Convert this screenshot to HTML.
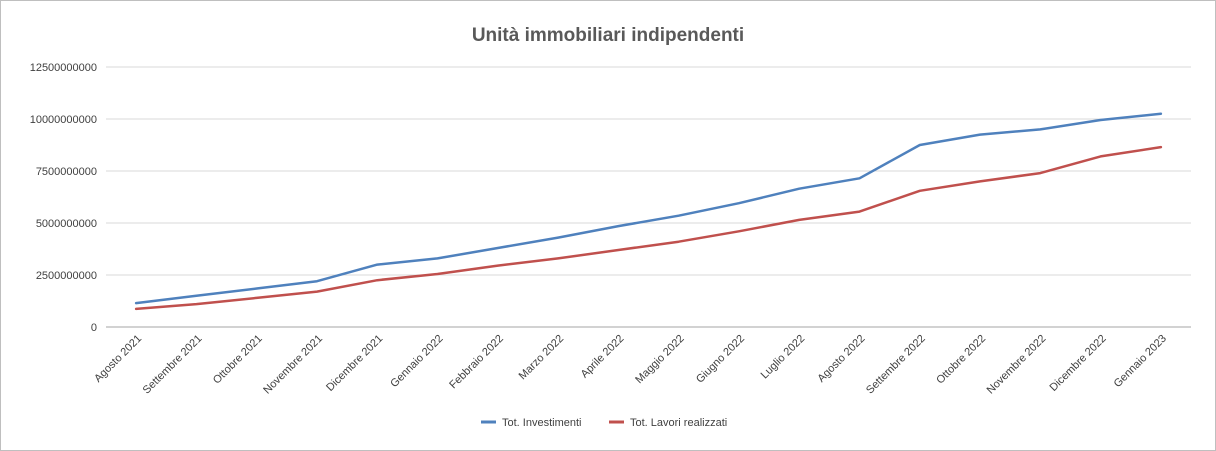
<!DOCTYPE html>
<html><head><meta charset="utf-8"><style>
html,body{margin:0;padding:0;background:#fff;}
svg{display:block;font-family:"Liberation Sans",sans-serif;}
</style></head><body>
<svg id="chart" width="1216" height="451" viewBox="0 0 1216 451">
<rect x="0.5" y="0.5" width="1215" height="450" fill="#fff" stroke="#bfbfbf"/>
<text x="608" y="41" text-anchor="middle" font-size="19" font-weight="bold" fill="#595959">Unità immobiliari indipendenti</text>
<g id="grid"></g>
<g id="yticks"></g>
<g id="xticks"></g>
<g id="series"></g>
<g>
<g><line x1="481" y1="422" x2="496" y2="422" stroke="#4f81bd" stroke-width="3"/><text x="502" y="426" font-size="11" fill="#404040">Tot. Investimenti</text></g>
<g><line x1="609" y1="422" x2="624" y2="422" stroke="#c0504d" stroke-width="3"/><text x="630" y="426" font-size="11" fill="#404040">Tot. Lavori realizzati</text></g>
</g>
</svg>
<script>
const categories=["Agosto 2021","Settembre 2021","Ottobre 2021","Novembre 2021","Dicembre 2021","Gennaio 2022","Febbraio 2022","Marzo 2022","Aprile 2022","Maggio 2022","Giugno 2022","Luglio 2022","Agosto 2022","Settembre 2022","Ottobre 2022","Novembre 2022","Dicembre 2022","Gennaio 2023"];
const investimenti=[1.15e9,1.5e9,1.85e9,2.2e9,3.0e9,3.3e9,3.8e9,4.3e9,4.85e9,5.35e9,5.95e9,6.65e9,7.15e9,8.75e9,9.25e9,9.5e9,9.95e9,10.25e9];
const lavori=[0.87e9,1.1e9,1.4e9,1.7e9,2.25e9,2.55e9,2.95e9,3.3e9,3.7e9,4.1e9,4.6e9,5.15e9,5.55e9,6.55e9,7.0e9,7.4e9,8.2e9,8.65e9];
const yTicks=[0,2500000000,5000000000,7500000000,10000000000,12500000000];
const NS="http://www.w3.org/2000/svg";
const L=106,R=1191,T=67,B=327,yMax=12500000000;
const step=(R-L)/categories.length;
function xS(i){return L+step*(i+0.5);}
function yS(v){return B-(v/yMax)*(B-T);}
function mk(tag,attrs,parent,txt){const e=document.createElementNS(NS,tag);for(const k in attrs)e.setAttribute(k,attrs[k]);if(txt!==undefined)e.textContent=txt;parent.appendChild(e);return e;}
const grid=document.getElementById('grid'),yt=document.getElementById('yticks'),xt=document.getElementById('xticks'),ser=document.getElementById('series');
yTicks.forEach(v=>{
 const y=yS(v);
 if(v>0){const g=mk('line',{x1:L,x2:R,y1:y,y2:y,stroke:'#d9d9d9','stroke-width':1},grid);
 
 }
 const t=mk('text',{x:97,y:y+4,'text-anchor':'end','font-size':11,fill:'#404040'},yt,String(v));
 
 
});
const ax=mk('line',{x1:L,x2:R,y1:B,y2:B,stroke:'#a6a6a6','stroke-width':1},xt);


categories.forEach((c,i)=>{
 const x=xS(i);
 const t=mk('text',{x:x+6,y:B+12,'text-anchor':'end','font-size':11,fill:'#404040',transform:`rotate(-45 ${x+6} ${B+12})`},xt,c);
 
 
});
function drawLine(vals,color,name){
 const d=vals.map((v,i)=>(i?'L':'M')+xS(i).toFixed(1)+' '+yS(v).toFixed(1)).join(' ');
 const p=mk('path',{d:d,fill:'none',stroke:color,'stroke-width':2.5,'stroke-linejoin':'round','stroke-linecap':'round'},ser);
 
 
}
drawLine(investimenti,'#4f81bd','line-tot-investimenti');
drawLine(lavori,'#c0504d','line-tot-lavori-realizzati');
</script>
</body></html>
